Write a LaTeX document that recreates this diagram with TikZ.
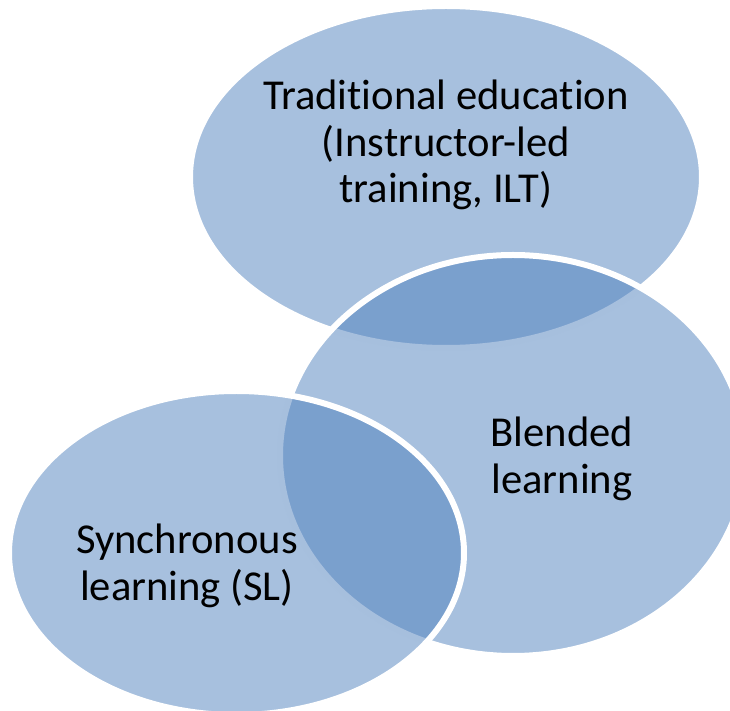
\documentclass[tikz,border=0pt]{standalone}
\usepackage{fontspec}
\setmainfont{Carlito}[RawFeature=-liga,RawFeature=-clig,RawFeature=-calt,RawFeature=-dlig]
\usepackage{xcolor}
\usepackage{tikz}
\definecolor{vennblue}{RGB}{79,129,189}

\begin{document}
\begin{tikzpicture}[x=0.5pt,y=-0.5pt,
		venn/.style={fill=vennblue,fill opacity=0.5,draw=white,line width=3pt},
		venntext/.style={align=center,font=\fontsize{21.3}{23.25}\selectfont,text=black,inner sep=0pt}]
			\useasboundingbox (0,0) rectangle (730,711);
			\filldraw [venn] (446,177) ellipse [x radius=128pt, y radius=85.5pt];
			\filldraw [venn] (513,455.5) ellipse [x radius=116.5pt, y radius=100.25pt];
			\filldraw [venn] (236.5,553) ellipse [x radius=113.75pt, y radius=81pt];
			\node[venntext] (trad) at (446,145) {Traditional education\\(Instructor-led\\training, ILT)};
			\node[venntext] (blend) at (562,459) {Blended\\learning};
			\node[venntext] (sync) at (187,566) {Synchronous\\learning (SL)};
		\end{tikzpicture}
\end{document}
